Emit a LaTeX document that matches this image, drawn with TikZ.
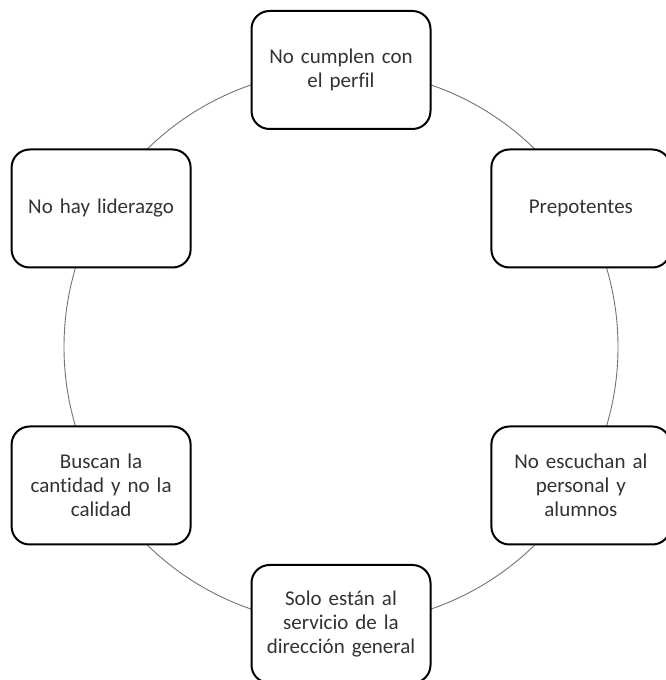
\documentclass[tikz,border=0pt]{standalone}
\usepackage{fontspec}
\setmainfont{Carlito}[Ligatures=CommonOff, WordSpace=0.75]
\usetikzlibrary{calc}
\begin{document}
\begin{tikzpicture}[x=1pt,y=1pt,
  causebox/.style={draw=black, line width=2pt, rounded corners=18pt, fill=white,
    minimum width=179pt, minimum height=118pt, text width=170pt, align=center,
    inner sep=0pt, font=\fontsize{21}{24}\selectfont, text=black!80},
  ring/.style={draw=black!55, line width=0.9pt}]
\useasboundingbox (0,0) rectangle (665,680);
\coordinate (c) at (341,333);
% ring joining the six boxes
\draw[ring] (c) circle (277);
\node[causebox] (top)  at ($(c)+(90:277)$)  {No cumplen con\\el perfil};
\node[causebox] (ur)   at ($(c)+(30:277)$)  {Prepotentes};
\node[causebox] (lr)   at ($(c)+(-30:277)$) {No escuchan al\\personal y\\alumnos};
\node[causebox] (bot)  at ($(c)+(-90:277)$) {Solo están al\\servicio de la\\dirección general};
\node[causebox] (ll)   at ($(c)+(-150:277)$){Buscan la\\cantidad y no la\\calidad};
\node[causebox] (ul)   at ($(c)+(150:277)$) {No hay liderazgo};
\end{tikzpicture}
\end{document}
